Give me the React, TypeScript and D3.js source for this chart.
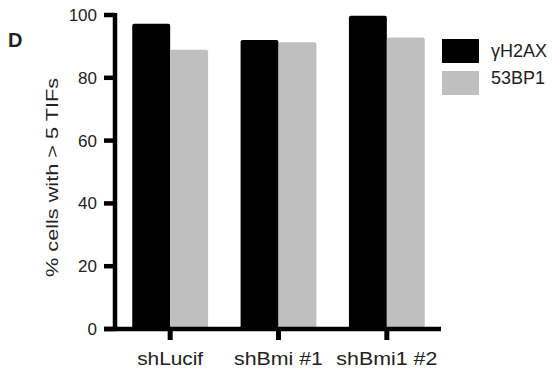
import React from 'react';
import { scaleBand, scaleLinear } from 'd3';

const categories = ['shLucif', 'shBmi #1', 'shBmi1 #2'];
const h2axValues = [97.2, 92.0, 99.8];
const bp53Values = [88.9, 91.3, 92.8];
const yTicks = [0, 20, 40, 60, 80, 100];
const seriesNames = ['\u03b3H2AX', '53BP1'];
const seriesColors = ['#000000', '#bfbfbf'];
// measured label widths in the reference (text is drawn stretched)
const catLabelWidths = [66, 89, 101];

const W = 552;
const H = 371;
const axisX = 115;
const baseY = 329;

// bar with slightly rounded top corners
const barPath = (x: number, y: number, w: number, h: number, r = 2) =>
  `M${x},${y + h}V${y + r}Q${x},${y} ${x + r},${y}H${x + w - r}Q${x + w},${y} ${x + w},${y + r}V${y + h}Z`;

const App: React.FC = () => {
  const x = scaleBand<string>()
    .domain(categories)
    .range([116, 441])
    .paddingInner(0.3)
    .paddingOuter(0.15);
  const y = scaleLinear().domain([0, 100]).range([baseY, 15]);
  const bw = x.bandwidth() / 2;

  const series = [h2axValues, bp53Values];
  const font = 'Liberation Sans, Arial, Helvetica, sans-serif';

  return (
    <svg width={W} height={H} style={{ position: 'absolute', left: 0, top: 0 }} fontFamily={font}>
      <rect width={W} height={H} fill="#fff" />
      <text x={8} y={47} fontSize={20} fontWeight="bold" fill="#222">D</text>

      {/* bars */}
      {series.map((vals, si) =>
        categories.map((c, i) => {
          const x0 = x(c)! + si * bw;
          const y0 = y(vals[i]);
          return <path key={`${si}-${i}`} d={barPath(x0, y0, bw, baseY - y0)} fill={seriesColors[si]} />;
        })
      )}

      {/* y axis */}
      <line x1={axisX} x2={axisX} y1={13} y2={baseY} stroke="#000" strokeWidth={4.5} />
      {yTicks.map(t => (
        <g key={t}>
          <line x1={104} x2={axisX} y1={y(t)} y2={y(t)} stroke="#000" strokeWidth={4.5} />
          <text x={97} y={y(t) + 6} fontSize={17} textAnchor="end" fill="#222">{t}</text>
        </g>
      ))}
      <text
        transform={`translate(58,${177.5}) rotate(-90)`}
        fontSize={16}
        textAnchor="middle"
        textLength={199}
        lengthAdjust="spacingAndGlyphs"
        fill="#222"
      >
        % cells with &gt; 5 TIFs
      </text>

      {/* x axis */}
      <line x1={104} x2={441} y1={baseY} y2={baseY} stroke="#000" strokeWidth={4.5} />
      {categories.map((c, i) => {
        const cx = x(c)! + x.bandwidth() / 2;
        return (
          <g key={c}>
            <line x1={cx} x2={cx} y1={baseY} y2={340} stroke="#000" strokeWidth={5} />
            <text
              x={cx - catLabelWidths[i] / 2}
              y={365}
              fontSize={18}
              textLength={catLabelWidths[i]}
              lengthAdjust="spacingAndGlyphs"
              fill="#222"
            >
              {c}
            </text>
          </g>
        );
      })}

      {/* legend */}
      {seriesNames.map((n, i) => (
        <g key={n}>
          <rect x={442} y={39 + i * 32} width={37} height={24} fill={seriesColors[i]} />
          <text x={491} y={57 + i * 27} fontSize={18} fill="#222">{n}</text>
        </g>
      ))}
    </svg>
  );
};

export default App;
